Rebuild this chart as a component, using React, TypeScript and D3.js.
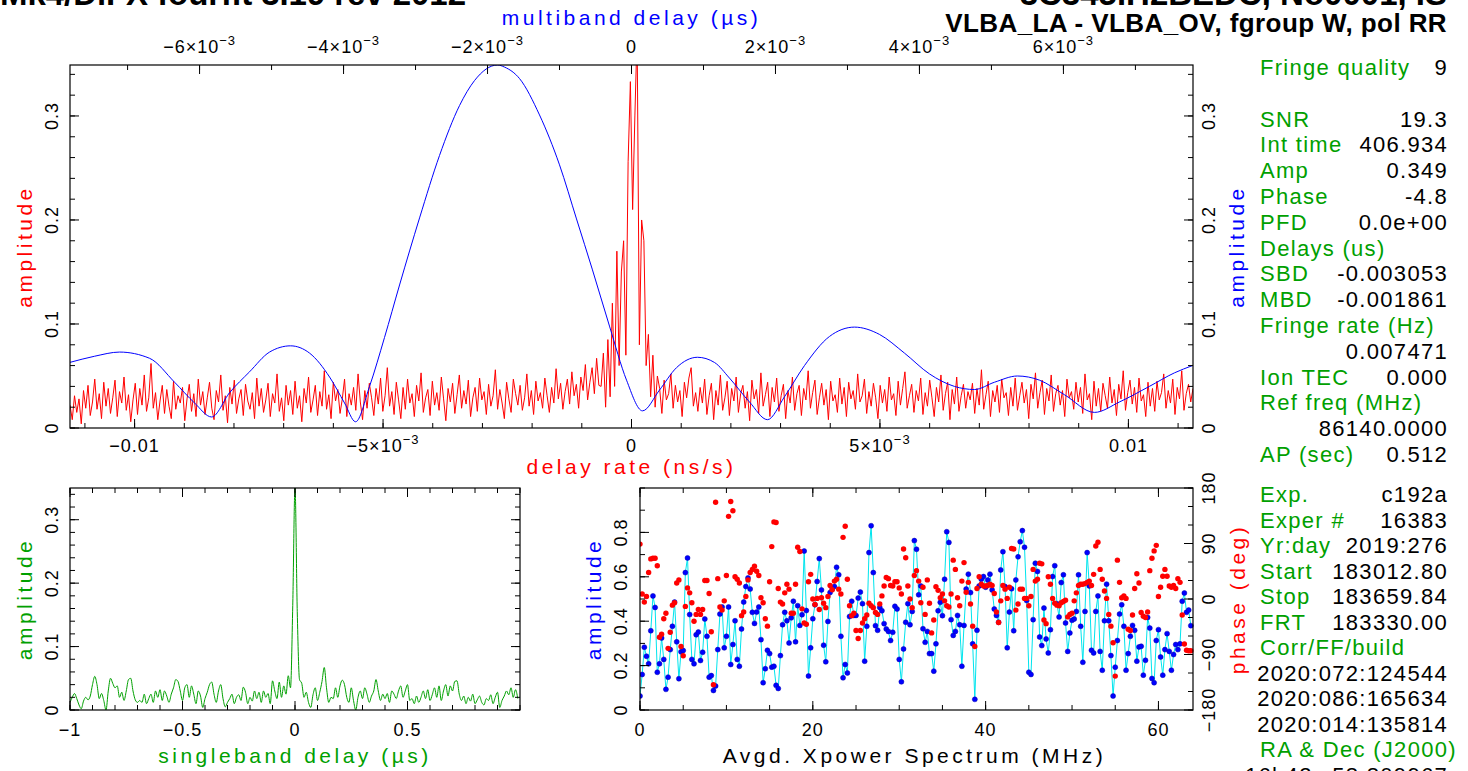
import React from "react";
import * as d3 from "d3";

// ---------------- DATA ----------------
// Top panel: delay-rate spectrum (red), sampled on an even grid over RATE_DOMAIN (ns/s)
const RATE_DOMAIN = [-0.0113, 0.0113];
const rateAmp = [
  0.022,0.008,0.031,0.015,0.028,0.004,0.036,0.019,0.041,0.012,0.025,0.047,0.018,0.033,0.009,0.044,0.021,0.038,0.014,0.029,
  0.046,0.011,0.035,0.024,0.049,0.017,0.032,0.006,0.027,0.043,0.013,0.038,0.022,0.051,0.016,0.029,0.062,0.019,0.034,0.008,
  0.026,0.041,0.014,0.037,0.021,0.009,0.045,0.018,0.031,0.024,0.039,0.007,0.028,0.042,0.016,0.033,0.011,0.047,0.022,0.035,
  0.013,0.029,0.044,0.019,0.008,0.036,0.025,0.051,0.017,0.031,0.005,0.039,0.023,0.046,0.014,0.028,0.037,0.012,0.042,0.026,
  0.018,0.034,0.009,0.048,0.021,0.038,0.015,0.027,0.043,0.011,0.033,0.024,0.052,0.016,0.029,0.007,0.041,0.022,0.036,0.013,
  0.045,0.019,0.031,0.006,0.038,0.024,0.049,0.015,0.027,0.041,0.012,0.035,0.021,0.055,0.018,0.032,0.009,0.044,0.026,0.037,
  0.014,0.028,0.047,0.011,0.033,0.022,0.039,0.017,0.052,0.025,0.008,0.036,0.019,0.043,0.029,0.012,0.038,0.023,0.048,0.016,
  0.031,0.058,0.021,0.035,0.013,0.044,0.027,0.009,0.039,0.018,0.047,0.024,0.033,0.011,0.041,0.026,0.053,0.015,0.029,0.037,
  0.012,0.045,0.022,0.034,0.017,0.049,0.028,0.007,0.038,0.025,0.043,0.014,0.032,0.051,0.019,0.036,0.023,0.046,0.011,0.029,
  0.039,0.016,0.048,0.027,0.035,0.013,0.042,0.021,0.031,0.056,0.018,0.037,0.024,0.009,0.044,0.028,0.015,0.047,0.033,0.022,
  0.041,0.017,0.029,0.052,0.021,0.036,0.013,0.045,0.026,0.034,0.019,0.048,0.031,0.015,0.039,0.024,0.057,0.028,0.043,0.018,
  0.035,0.047,0.023,0.054,0.031,0.042,0.019,0.049,0.036,0.061,0.027,0.044,0.058,0.033,0.067,0.041,0.04,0.072,0.02,0.085,
  0.03,0.12,0.04,0.17,0.06,0.15,0.18,0.07,0.256,0.333,0.21,0.30,0.38,0.08,0.2,0.18,0.06,0.09,0.03,0.07,
  0.02,0.05,0.038,0.014,0.046,0.027,0.033,0.052,0.019,0.041,0.025,0.036,0.011,0.044,0.029,0.048,0.058,0.021,0.034,0.016,
  0.039,0.024,0.047,0.013,0.031,0.043,0.008,0.036,0.022,0.051,0.017,0.029,0.045,0.012,0.038,0.026,0.049,0.015,0.033,0.041,
  0.019,0.035,0.007,0.046,0.028,0.037,0.014,0.053,0.021,0.032,0.044,0.011,0.039,0.025,0.048,0.016,0.031,0.042,0.009,0.036,
  0.024,0.049,0.017,0.033,0.041,0.012,0.038,0.027,0.055,0.019,0.034,0.046,0.013,0.029,0.043,0.022,0.037,0.008,0.045,0.026,
  0.032,0.015,0.048,0.023,0.039,0.011,0.044,0.028,0.036,0.018,0.052,0.025,0.031,0.047,0.014,0.035,0.021,0.043,0.029,0.009,
  0.041,0.024,0.037,0.016,0.049,0.027,0.033,0.012,0.045,0.022,0.038,0.054,0.019,0.031,0.042,0.015,0.036,0.026,0.048,0.013,
  0.034,0.021,0.046,0.029,0.011,0.039,0.025,0.051,0.017,0.033,0.044,0.008,0.037,0.023,0.049,0.016,0.031,0.042,0.019,0.035,
  0.027,0.043,0.014,0.038,0.022,0.056,0.018,0.032,0.045,0.011,0.036,0.025,0.041,0.015,0.047,0.029,0.034,0.012,0.039,0.021,
  0.048,0.017,0.031,0.044,0.024,0.037,0.009,0.042,0.028,0.053,0.019,0.034,0.046,0.013,0.038,0.026,0.051,0.016,0.033,0.041,
  0.022,0.036,0.011,0.047,0.029,0.035,0.018,0.044,0.025,0.039,0.014,0.052,0.027,0.033,0.008,0.045,0.021,0.038,0.016,0.043,
  0.031,0.019,0.049,0.024,0.037,0.012,0.042,0.028,0.055,0.017,0.034,0.046,0.023,0.039,0.015,0.048,0.026,0.032,0.011,0.044,
  0.021,0.038,0.016,0.045,0.027,0.034,0.052,0.019,0.036,0.024,0.047,0.013,0.039,0.028,0.055,0.017,0.033,0.042,0.025,0.038,
];

// Top panel: multiband delay function (blue), top axis in µs
const MBD_DOMAIN = [-0.0078, 0.0078];
const mbdDelay = [
  -0.007806,-0.007458,-0.007111,-0.006694,-0.006347,-0.006069,-0.005833,-0.005583,-0.005306,-0.005028,
  -0.004736,-0.004472,-0.004194,-0.003986,-0.003833,-0.003639,-0.003431,-0.003222,-0.002944,-0.002667,
  -0.002389,-0.002181,-0.001861,-0.001764,-0.001556,-0.001278,-0.001,-0.000764,-0.000542,-0.000306,
  -0.000069,0.000153,0.000389,0.000625,0.000917,0.001153,0.001361,0.001639,0.001889,0.002125,
  0.002403,0.00275,0.003097,0.003444,0.003792,0.004139,0.004486,0.004764,0.005042,0.005361,
  0.005667,0.006014,0.006431,0.006778,0.007194,0.007542,0.007792,
];
const mbdAmp = [
  0.063,0.069,0.073,0.067,0.044,0.024,0.0106,0.034,0.054,0.073,
  0.079,0.072,0.049,0.024,0.006,0.04,0.087,0.1375,0.202,0.262,
  0.31,0.334,0.349,0.347,0.336,0.301,0.253,0.201,0.152,0.098,
  0.046,0.0165,0.0365,0.058,0.068,0.063,0.048,0.025,0.008,0.03,
  0.06,0.088,0.097,0.09,0.072,0.052,0.04,0.037,0.044,0.05,
  0.046,0.032,0.015,0.025,0.04,0.053,0.06,
];
const TOP_AMP_MAX = 0.349;

// Bottom-left: singleband delay (green), even grid from -1 µs in steps of 0.01 µs
const SBD_START = -1;
const SBD_STEP = 0.01;
const sbdAmp = [
  0.012,0.02,0.026,0.018,0.008,0.002,0.014,0.02,0.016,0.022,
  0.04,0.053,0.04,0.018,0.026,0.015,0.0,0.03,0.05,0.042,
  0.035,0.038,0.02,0.028,0.015,0.03,0.048,0.05,0.03,0.016,
  0.012,0.015,0.012,0.025,0.01,0.018,0.025,0.012,0.03,0.02,
  0.032,0.015,0.03,0.022,0.012,0.025,0.035,0.048,0.045,0.03,
  0.015,0.035,0.04,0.02,0.038,0.025,0.01,0.03,0.022,0.004,
  0.018,0.028,0.04,0.044,0.025,0.012,0.03,0.04,0.018,0.005,
  0.012,0.018,0.025,0.01,0.02,0.024,0.015,0.036,0.028,0.01,
  0.02,0.014,0.03,0.018,0.028,0.012,0.03,0.02,0.026,0.01,
  0.046,0.03,0.018,0.044,0.02,0.038,0.025,0.054,0.035,0.165,
  0.352,0.155,0.048,0.042,0.02,0.028,0.012,0.004,0.024,0.035,
  0.015,0.028,0.045,0.067,0.035,0.012,0.02,0.018,0.035,0.02,
  0.038,0.047,0.04,0.02,0.012,0.035,0.015,0.0,0.02,0.03,
  0.018,0.035,0.025,0.012,0.022,0.03,0.048,0.03,0.015,0.025,
  0.018,0.026,0.012,0.03,0.025,0.018,0.03,0.038,0.02,0.03,
  0.04,0.015,0.018,0.01,0.022,0.012,0.02,0.03,0.018,0.032,
  0.015,0.024,0.035,0.02,0.038,0.015,0.03,0.04,0.022,0.038,
  0.03,0.045,0.046,0.025,0.015,0.022,0.01,0.02,0.014,0.025,
  0.01,0.016,0.022,0.012,0.008,0.018,0.015,0.024,0.01,0.02,
  0.028,0.004,0.015,0.022,0.03,0.024,0.035,0.02,0.032,0.018,
];

// Bottom-right: averaged cross-power spectrum, 0.25 MHz channels from 0 MHz
const SPEC_STEP = 0.25;
const specAmp = [
  0.063,0.16,0.283,0.242,0.208,0.357,0.514,0.462,0.17,0.208,
  0.324,0.228,0.093,0.148,0.272,0.377,0.486,0.307,0.141,0.262,
  0.268,0.619,0.685,0.43,0.228,0.208,0.339,0.351,0.223,0.26,
  0.41,0.332,0.148,0.155,0.088,0.108,0.272,0.432,0.464,0.28,
  0.332,0.464,0.205,0.295,0.402,0.228,0.197,0.365,0.486,0.556,
  0.595,0.545,0.44,0.39,0.441,0.464,0.317,0.123,0.186,0.269,
  0.254,0.193,0.197,0.111,0.097,0.245,0.384,0.44,0.402,0.302,
  0.415,0.49,0.307,0.47,0.381,0.429,0.716,0.448,0.153,0.28,
  0.411,0.474,0.579,0.682,0.541,0.292,0.217,0.399,0.529,0.545,
  0.556,0.643,0.609,0.332,0.145,0.205,0.167,0.421,0.49,0.426,
  0.426,0.504,0.531,0.479,0.22,0.377,0.709,0.83,0.619,0.38,
  0.359,0.462,0.447,0.389,0.365,0.354,0.313,0.35,0.467,0.455,
  0.228,0.127,0.275,0.395,0.479,0.384,0.444,0.763,0.724,0.519,
  0.559,0.366,0.305,0.354,0.254,0.254,0.175,0.298,0.447,0.485,
  0.425,0.589,0.803,0.755,0.407,0.336,0.354,0.426,0.384,0.197,
  0.381,0.545,0.612,0.529,0.298,0.048,0.359,0.559,0.589,0.601,
  0.553,0.586,0.612,0.541,0.455,0.426,0.395,0.631,0.713,0.556,
  0.28,0.441,0.546,0.357,0.586,0.69,0.758,0.808,0.733,0.493,
  0.17,0.16,0.407,0.661,0.624,0.329,0.29,0.459,0.32,0.257,
  0.362,0.601,0.65,0.479,0.419,0.574,0.609,0.392,0.264,0.347,
  0.404,0.41,0.444,0.609,0.377,0.215,0.444,0.709,0.559,0.269,
  0.257,0.444,0.514,0.264,0.179,0.402,0.567,0.402,0.245,0.063,
  0.193,0.313,0.432,0.474,0.377,0.179,0.254,0.332,0.381,0.359,
  0.22,0.284,0.287,0.157,0.224,0.417,0.369,0.142,0.123,0.313,
  0.362,0.239,0.157,0.272,0.344,0.264,0.179,0.25,0.295,0.272,
  0.298,0.49,0.527,0.44,0.45,0.38,
];
const specPhase = [
  89,8,-5,4,43,65,66,66,54,-62,
  -57,-32,-23,-80,-54,-10,-6,26,31,-77,
  -92,-12,18,10,-6,-36,-25,-17,-25,-17,
  30,30,9,-53,-139,157,33,-13,-18,-3,
  38,134,158,143,36,32,26,-27,-21,4,
  31,43,48,53,45,38,2,-6,-32,-44,
  28,85,125,124,17,-5,-8,10,24,16,
  -23,-23,24,84,77,-16,-39,-41,28,40,
  0,-9,1,-17,2,-7,-14,4,22,15,
  29,32,16,8,100,118,32,-11,-27,-23,
  -51,-64,-51,-39,-32,-26,-7,-11,-14,-22,
  -25,-8,5,21,35,33,22,21,28,28,
  18,8,81,67,21,0,-14,38,46,29,
  -6,19,-25,31,-7,-55,-34,20,14,2,
  8,-3,-11,-13,8,63,48,2,-11,29,
  59,11,27,-8,-44,-77,17,36,24,21,
  21,22,24,22,9,-21,-38,-3,22,16,
  1,19,82,81,-18,-8,16,16,1,1,
  -11,4,48,29,32,58,57,-34,-40,36,
  24,1,-7,-10,-11,-6,-4,-2,-29,-25,
  -23,-3,10,22,24,24,25,27,29,22,
  40,86,92,48,32,13,1,-25,-44,-71,
  -125,63,27,2,5,1,-49,-51,-26,17,
  41,26,-22,-28,-30,-21,46,66,78,87,
  4,19,37,48,37,21,19,22,17,33,
  27,-26,-73,-83,-84,-84,
];

// Tick values and labels
const rateTicks = [-0.01, -0.005, 0, 0.005, 0.01];
const rateTickLabels = [["−0.01", ""], ["−5×10", "−3"], ["0", ""], ["5×10", "−3"], ["0.01", ""]];
const mbdTicks = [-0.006, -0.004, -0.002, 0, 0.002, 0.004, 0.006];
const mbdTickLabels = [["−6×10", "−3"], ["−4×10", "−3"], ["−2×10", "−3"], ["0", ""], ["2×10", "−3"], ["4×10", "−3"], ["6×10", "−3"]];
const ampTicks = [0, 0.1, 0.2, 0.3];
const ampTickLabels = ["0", "0.1", "0.2", "0.3"];
const sbdTicks = [-1, -0.5, 0, 0.5];
const sbdTickLabels = ["−1", "−0.5", "0", "0.5"];
const freqTicks = [0, 20, 40, 60];
const freqTickLabels = ["0", "20", "40", "60"];
const specAmpTicks = [0, 0.2, 0.4, 0.6, 0.8];
const specAmpTickLabels = ["0", "0.2", "0.4", "0.6", "0.8"];
const phaseTicks = [-180, -90, 0, 90, 180];
const phaseTickLabels = ["−180", "−90", "0", "90", "180"];

// Info text
const infoLabelsA = ["Fringe quality", "", "SNR", "Int time", "Amp", "Phase", "PFD", "Delays (us)", "SBD", "MBD", "Fringe rate (Hz)", "", "Ion TEC", "Ref freq (MHz)", "", "AP (sec)"];
const infoValuesA = ["9", "", "19.3", "406.934", "0.349", "-4.8", "0.0e+00", "", "-0.003053", "-0.001861", "", "0.007471", "0.000", "", "86140.0000", "0.512"];
const infoLabelsB = ["Exp.", "Exper #", "Yr:day", "Start", "Stop", "FRT", "Corr/FF/build", "", "", "", "RA & Dec (J2000)", ""];
const infoValuesB = ["c192a", "16383", "2019:276", "183012.80", "183659.84", "183330.00", "", "2020:072:124544", "2020:086:165634", "2020:014:135814", "", "16h42m58.809967"];

const titleLeft = "Mk4/DiFX fourfit 3.19 rev 2012";
const titleRight1 = "3C345.H2BEDC, No0001, IS";
const titleRight2 = "VLBA_LA - VLBA_OV, fgroup W, pol RR";

// ---------------- LAYOUT ----------------
const W = 1468, H = 771;
const TOP = { x0: 70, x1: 1193, y0: 65, y1: 428 };
const BL = { x0: 70, x1: 520, y0: 488, y1: 710 };
const BR = { x0: 640, x1: 1193, y0: 488, y1: 710 };
const FONT = "'Liberation Sans', Arial, Helvetica, sans-serif";
const RED = "#ff0000", BLUE = "#0000ff", GREEN = "#00a000", CYAN = "#00e5ee";

const stepTicks = (d0: number, d1: number, step: number) =>
  d3.range(Math.ceil(d0 / step - 1e-9), Math.floor(d1 / step + 1e-9) + 1).map((k) => +(k * step).toFixed(10));

function tickLines(scale: any, values: number[], orient: string, pos: number, len: number, keyp: string) {
  return values.map((v, i) => {
    const p = scale(v);
    const k = keyp + i;
    if (orient === "bottom") return <line key={k} x1={p} x2={p} y1={pos} y2={pos - len} />;
    if (orient === "top") return <line key={k} x1={p} x2={p} y1={pos} y2={pos + len} />;
    if (orient === "left") return <line key={k} x1={pos} x2={pos + len} y1={p} y2={p} />;
    return <line key={k} x1={pos} x2={pos - len} y1={p} y2={p} />;
  });
}

function SupLabel({ x, y, base, exp, fill = "#000" }: any) {
  return (
    <text x={x} y={y} textAnchor="middle" fontFamily={FONT} fontSize={18} letterSpacing={1} fill={fill}>
      {base}
      {exp ? <tspan dy={-8} fontSize={13}>{exp}</tspan> : null}
    </text>
  );
}

function RotText({ x, y, text, fill = "#000", size = 18, spacing = 1 }: any) {
  return (
    <text transform={`translate(${x},${y}) rotate(-90)`} textAnchor="middle" fontFamily={FONT}
      fontSize={size} letterSpacing={spacing} fill={fill}>{text}</text>
  );
}

export default function App() {
  // Top panel scales
  const xRate = d3.scaleLinear().domain(RATE_DOMAIN).range([TOP.x0, TOP.x1]);
  const xMbd = d3.scaleLinear().domain(MBD_DOMAIN).range([TOP.x0, TOP.x1]);
  const yTop = d3.scaleLinear().domain([0, TOP_AMP_MAX]).range([TOP.y1, TOP.y0]);
  const rateStep = (RATE_DOMAIN[1] - RATE_DOMAIN[0]) / (rateAmp.length - 1);

  const redPath = d3.line<number>()
    .x((_, i) => xRate(RATE_DOMAIN[0] + i * rateStep))
    .y((d) => yTop(d))(rateAmp) || "";
  const bluePath = d3.line<number>()
    .x((_, i) => xMbd(mbdDelay[i]))
    .y((d) => yTop(d))
    .curve(d3.curveMonotoneX)(mbdAmp) || "";

  // Bottom-left scales
  const xSbd = d3.scaleLinear().domain([-1, 1]).range([BL.x0, BL.x1]);
  const ySbd = d3.scaleLinear().domain([0, 0.35]).range([BL.y1, BL.y0]);
  const greenPath = d3.line<number>()
    .x((_, i) => xSbd(SBD_START + i * SBD_STEP))
    .y((d) => ySbd(d))
    .curve(d3.curveMonotoneX)(sbdAmp) || "";

  // Bottom-right scales
  const xFreq = d3.scaleLinear().domain([0, 64]).range([BR.x0, BR.x1]);
  const ySpec = d3.scaleLinear().domain([0, 1]).range([BR.y1, BR.y0]);
  const yPhase = d3.scaleLinear().domain([-180, 180]).range([BR.y1, BR.y0]);
  const cyanPath = d3.line<number>()
    .x((_, i) => xFreq(i * SPEC_STEP))
    .y((d) => ySpec(d))(specAmp) || "";

  const lineH = 25.8;

  return (
    <svg width={W} height={H} viewBox={`0 0 ${W} ${H}`}
      style={{ position: "absolute", left: 0, top: 0, background: "#fff", display: "block" }}>
      <defs>
        <clipPath id="clipTop"><rect x={TOP.x0} y={TOP.y0} width={TOP.x1 - TOP.x0} height={TOP.y1 - TOP.y0} /></clipPath>
        <clipPath id="clipBL"><rect x={BL.x0} y={BL.y0} width={BL.x1 - BL.x0} height={BL.y1 - BL.y0} /></clipPath>
        <clipPath id="clipBR"><rect x={BR.x0} y={BR.y0 - 3} width={BR.x1 - BR.x0 + 3} height={BR.y1 - BR.y0 + 6} /></clipPath>
      </defs>
      <rect x={0} y={0} width={W} height={H} fill="#fff" />

      {/* Titles */}
      <text x={0} y={5} fontFamily={FONT} fontWeight="bold" fontSize={33} textLength={466} lengthAdjust="spacing">{titleLeft}</text>
      <text x={1447} y={5} textAnchor="end" fontFamily={FONT} fontWeight="bold" fontSize={33}>{titleRight1}</text>
      <text x={1447} y={32} textAnchor="end" fontFamily={FONT} fontWeight="bold" fontSize={26} letterSpacing={0.4}>{titleRight2}</text>

      {/* ---------- TOP PANEL ---------- */}
      <g clipPath="url(#clipTop)">
        <path d={redPath} fill="none" stroke={RED} strokeWidth={1} />
        <path d={bluePath} fill="none" stroke={BLUE} strokeWidth={1} />
      </g>
      <rect x={TOP.x0} y={TOP.y0} width={TOP.x1 - TOP.x0} height={TOP.y1 - TOP.y0} fill="none" stroke="#000" strokeWidth={1.2} />
      <g stroke="#000" strokeWidth={1}>
        {tickLines(xRate, stepTicks(RATE_DOMAIN[0], RATE_DOMAIN[1], 0.001), "bottom", TOP.y1, 5, "rm")}
        {tickLines(xRate, rateTicks, "bottom", TOP.y1, 9, "rM")}
        {tickLines(xMbd, stepTicks(MBD_DOMAIN[0], MBD_DOMAIN[1], 0.001), "top", TOP.y0, 5, "mm")}
        {tickLines(xMbd, mbdTicks, "top", TOP.y0, 9, "mM")}
        {tickLines(yTop, stepTicks(0, TOP_AMP_MAX, 0.02), "left", TOP.x0, 5, "alm")}
        {tickLines(yTop, ampTicks, "left", TOP.x0, 9, "alM")}
        {tickLines(yTop, stepTicks(0, TOP_AMP_MAX, 0.02), "right", TOP.x1, 5, "arm")}
        {tickLines(yTop, ampTicks, "right", TOP.x1, 9, "arM")}
      </g>
      {rateTicks.map((v, i) => (
        <SupLabel key={"rl" + i} x={xRate(v)} y={452} base={rateTickLabels[i][0]} exp={rateTickLabels[i][1]} />
      ))}
      {mbdTicks.map((v, i) => (
        <SupLabel key={"ml" + i} x={xMbd(v)} y={53} base={mbdTickLabels[i][0]} exp={mbdTickLabels[i][1]} />
      ))}
      {ampTicks.map((v, i) => <RotText key={"al" + i} x={58} y={yTop(v)} text={ampTickLabels[i]} />)}
      {ampTicks.map((v, i) => <RotText key={"ar" + i} x={1215} y={yTop(v)} text={ampTickLabels[i]} />)}
      <RotText x={32} y={(TOP.y0 + TOP.y1) / 2} text="amplitude" fill={RED} size={21} spacing={3.5} />
      <RotText x={1244} y={(TOP.y0 + TOP.y1) / 2} text="amplitude" fill={BLUE} size={21} spacing={3.5} />
      <text x={xRate(0)} y={474} textAnchor="middle" fontFamily={FONT} fontSize={21} letterSpacing={3.5} fill={RED}>delay rate (ns/s)</text>
      <text x={xMbd(0)} y={25} textAnchor="middle" fontFamily={FONT} fontSize={21} letterSpacing={3.5} fill={BLUE}>multiband delay (µs)</text>

      {/* ---------- BOTTOM-LEFT PANEL ---------- */}
      <g clipPath="url(#clipBL)">
        <path d={greenPath} fill="none" stroke={GREEN} strokeWidth={1} />
      </g>
      <rect x={BL.x0} y={BL.y0} width={BL.x1 - BL.x0} height={BL.y1 - BL.y0} fill="none" stroke="#000" strokeWidth={1.2} />
      <g stroke="#000" strokeWidth={1}>
        {tickLines(xSbd, stepTicks(-1, 1, 0.1), "bottom", BL.y1, 5, "sbm")}
        {tickLines(xSbd, sbdTicks, "bottom", BL.y1, 9, "sbM")}
        {tickLines(xSbd, stepTicks(-1, 1, 0.1), "top", BL.y0, 5, "stm")}
        {tickLines(xSbd, sbdTicks, "top", BL.y0, 9, "stM")}
        {tickLines(ySbd, stepTicks(0, 0.35, 0.02), "left", BL.x0, 5, "slm")}
        {tickLines(ySbd, ampTicks, "left", BL.x0, 9, "slM")}
        {tickLines(ySbd, stepTicks(0, 0.35, 0.02), "right", BL.x1, 5, "srm")}
        {tickLines(ySbd, ampTicks, "right", BL.x1, 9, "srM")}
      </g>
      {sbdTicks.map((v, i) => <SupLabel key={"sl" + i} x={xSbd(v)} y={736} base={sbdTickLabels[i]} exp="" />)}
      {ampTicks.map((v, i) => <RotText key={"sa" + i} x={58} y={ySbd(v)} text={ampTickLabels[i]} />)}
      <RotText x={32} y={(BL.y0 + BL.y1) / 2} text="amplitude" fill={GREEN} size={21} spacing={3.5} />
      <text x={xSbd(0)} y={763} textAnchor="middle" fontFamily={FONT} fontSize={21} letterSpacing={3.5} fill={GREEN}>singleband delay (µs)</text>

      {/* ---------- BOTTOM-RIGHT PANEL ---------- */}
      <g clipPath="url(#clipBR)">
        <path d={cyanPath} fill="none" stroke={CYAN} strokeWidth={1} />
        {specAmp.map((d, i) => (
          <circle key={"bd" + i} cx={xFreq(i * SPEC_STEP)} cy={ySpec(d)} r={2.5} fill={BLUE} stroke="#0000b0" strokeWidth={0.5} />
        ))}
        {specPhase.map((d, i) => (
          <circle key={"pd" + i} cx={xFreq(i * SPEC_STEP)} cy={yPhase(d)} r={2.7} fill={RED} />
        ))}
      </g>
      <rect x={BR.x0} y={BR.y0} width={BR.x1 - BR.x0} height={BR.y1 - BR.y0} fill="none" stroke="#000" strokeWidth={1.2} />
      <g stroke="#000" strokeWidth={1}>
        {tickLines(xFreq, stepTicks(0, 64, 5), "bottom", BR.y1, 5, "fbm")}
        {tickLines(xFreq, freqTicks, "bottom", BR.y1, 9, "fbM")}
        {tickLines(xFreq, stepTicks(0, 64, 5), "top", BR.y0, 5, "ftm")}
        {tickLines(xFreq, freqTicks, "top", BR.y0, 9, "ftM")}
        {tickLines(ySpec, stepTicks(0, 1, 0.1), "left", BR.x0, 5, "plm")}
        {tickLines(ySpec, specAmpTicks, "left", BR.x0, 9, "plM")}
        {tickLines(yPhase, stepTicks(-180, 180, 30), "right", BR.x1, 5, "prm")}
        {tickLines(yPhase, phaseTicks, "right", BR.x1, 9, "prM")}
      </g>
      {freqTicks.map((v, i) => <SupLabel key={"fl" + i} x={xFreq(v)} y={736} base={freqTickLabels[i]} exp="" />)}
      {specAmpTicks.map((v, i) => <RotText key={"pa" + i} x={627} y={ySpec(v)} text={specAmpTickLabels[i]} />)}
      {phaseTicks.map((v, i) => <RotText key={"pp" + i} x={1215} y={yPhase(v)} text={phaseTickLabels[i]} />)}
      <RotText x={601} y={(BR.y0 + BR.y1) / 2} text="amplitude" fill={BLUE} size={21} spacing={3.5} />
      <RotText x={1245} y={(BR.y0 + BR.y1) / 2} text="phase (deg)" fill={RED} size={21} spacing={3.5} />
      <text x={(BR.x0 + BR.x1) / 2 - 2} y={763} textAnchor="middle" fontFamily={FONT} fontSize={21} letterSpacing={3.5} fill="#000">Avgd. Xpower Spectrum (MHz)</text>

      {/* ---------- INFO TEXT ---------- */}
      <g fontFamily={FONT} fontSize={22} letterSpacing={1.3}>
        {infoLabelsA.map((t, i) => t ? <text key={"ia" + i} x={1260} y={75 + i * lineH} fill={GREEN}>{t}</text> : null)}
        {infoValuesA.map((t, i) => t ? <text key={"iv" + i} x={1448} y={75 + i * lineH} textAnchor="end" fill="#000">{t}</text> : null)}
        {infoLabelsB.map((t, i) => t ? <text key={"ib" + i} x={1260} y={502 + i * 25.5} fill={GREEN}>{t}</text> : null)}
        {infoValuesB.map((t, i) => t ? <text key={"iw" + i} x={1448} y={502 + i * 25.5} textAnchor="end" fill="#000">{t}</text> : null)}
      </g>
    </svg>
  );
}
